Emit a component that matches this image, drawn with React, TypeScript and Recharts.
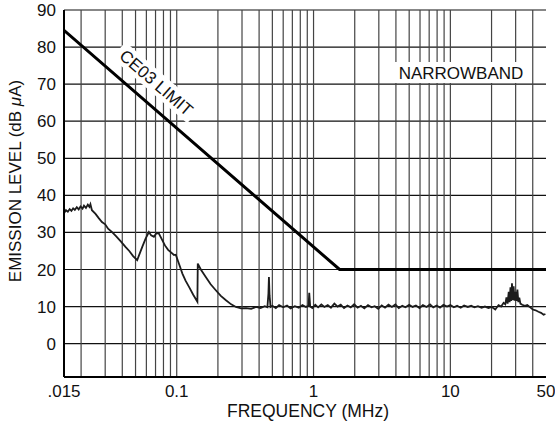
import { LineChart, Line, XAxis, YAxis, CartesianGrid, ReferenceLine } from 'recharts';

// axis ticks
const freqLabelTicks = [0.015, 0.1, 1, 10, 50];
const freqGridTicks = [
  0.02, 0.03, 0.04, 0.05, 0.06, 0.07, 0.08, 0.09,
  0.1, 0.2, 0.3, 0.4, 0.5, 0.6, 0.7, 0.8, 0.9,
  1, 2, 3, 4, 5, 6, 7, 8, 9,
  10, 20, 30, 40,
];
const levelTicks = [0, 10, 20, 30, 40, 50, 60, 70, 80, 90];

// CE03 narrowband limit
const limitFreq = [0.015, 1.55, 50];
const limitLevel = [84.5, 20, 20];

const emissionFreq = [
  0.015, 0.0155, 0.016, 0.0165, 0.017, 0.0175, 0.018, 0.0186, 0.0192, 0.0198,
  0.0205, 0.021, 0.0217, 0.0224, 0.023, 0.0234, 0.024, 0.0255, 0.027, 0.0284,
  0.03, 0.0315, 0.0337, 0.036, 0.039, 0.0422, 0.045, 0.048, 0.0514, 0.053,
  0.056, 0.059, 0.0626, 0.065, 0.0681, 0.071, 0.0741, 0.0784, 0.082, 0.0865,
  0.0904, 0.0955, 0.0984, 0.104, 0.11, 0.116, 0.123, 0.132, 0.1416, 0.1425,
  0.15, 0.163, 0.177, 0.193, 0.21, 0.229, 0.25, 0.271, 0.295, 0.321,
  0.35, 0.38, 0.41, 0.44, 0.46, 0.468, 0.472, 0.477, 0.485,
  0.5, 0.53, 0.56, 0.6, 0.64, 0.68, 0.73, 0.78, 0.83, 0.88,
  0.92, 0.93, 0.945, 0.98, 1.03, 1.08, 1.14, 1.2, 1.27, 1.34,
  1.42, 1.5, 1.58, 1.67, 1.77, 1.87, 1.98, 2.1, 2.22, 2.35,
  2.5, 2.65, 2.8, 2.97, 3.15, 3.33, 3.53, 3.74, 3.96, 4.2,
  4.45, 4.7, 5.0, 5.3, 5.6, 5.95, 6.3, 6.7, 7.1, 7.5,
  7.95, 8.4, 8.9, 9.45, 10, 10.6, 11.2, 11.9, 12.6, 13.4,
  14.2, 15, 15.9, 16.9, 17.9, 19, 20.1, 21.3, 22.5, 23.5,
  24.5, 25.2, 25.7, 26.2, 26.7, 27.1, 27.5, 27.9, 28.2, 28.6,
  29.0, 29.4, 29.9, 30.4, 30.9, 31.4, 31.9, 32.5, 33.5, 35,
  36.5, 38, 40, 42, 44, 46, 48, 49.5,
];
const emissionLevel = [
  35.2, 36.0, 35.6, 36.3, 35.8, 36.5, 36.1, 36.8, 36.2, 37.0,
  36.4, 37.2, 36.6, 37.5, 36.9, 37.6, 36.0, 35.0, 33.8, 32.8,
  32.2, 31.0, 30.1, 29.0, 27.6, 26.1, 25.0, 23.6, 22.5, 23.8,
  26.1, 28.2, 30.1, 29.2, 28.8, 29.8, 29.7, 27.9, 26.5, 25.3,
  24.7, 23.9, 24.0, 21.5, 18.9, 17.0, 15.3, 13.2, 11.3, 21.6,
  20.0, 18.0, 16.0, 14.4, 12.9, 11.7, 10.6, 9.9, 9.5, 9.6,
  9.4, 9.9, 9.6, 10.1, 9.8, 13.5, 18.0, 13.0, 9.9,
  10.2, 9.6, 10.4, 9.8, 10.3, 9.5, 10.1, 9.7, 10.4, 9.9,
  10.2, 13.7, 10.0, 9.6, 10.5, 9.8, 10.6, 9.9, 10.4, 9.7,
  10.8, 10.0, 10.5, 9.6, 10.3, 9.8, 10.6, 9.7, 10.2, 9.5,
  10.4, 9.8, 10.1, 9.4, 10.3, 9.7, 10.5, 9.9, 10.6, 9.6,
  10.2, 9.8, 10.5, 9.9, 10.3, 9.6, 10.4, 9.9, 10.6, 9.8,
  10.3, 9.7, 10.5, 10.0, 10.4, 9.8, 10.2, 9.7, 10.3, 9.9,
  10.2, 9.8, 10.1, 9.7, 10.0, 9.6, 9.9, 9.2, 10.4, 10.0,
  11.0, 10.6, 12.5, 10.8, 14.0, 11.2, 15.2, 11.5, 16.3, 11.8,
  15.5, 11.6, 14.0, 11.5, 14.6, 11.2, 12.4, 10.8, 10.5, 10.2,
  10.4, 9.9, 9.2, 9.0, 8.6, 8.3, 7.8, 8.0,
];

const limitData = limitFreq.map((f, i) => ({ f, v: limitLevel[i] }));
const emissionData = emissionFreq.map((f, i) => ({ f, v: emissionLevel[i] }));

const FONT = '"Liberation Sans", Arial, Helvetica, sans-serif';
const tickStyle = { fontSize: 17, fill: '#111', fontFamily: FONT };

function fmtFreq(v: number) {
  if (v === 0.015) return '.015';
  return String(v);
}

export default function App() {
  return (
    <div style={{ position: 'absolute', left: 0, top: 0, width: 555, height: 421, background: '#fff' }}>
      <LineChart
        width={555}
        height={421}
        margin={{ top: 10, right: 9, bottom: 14, left: 20 }}
      >
        <CartesianGrid xAxisId="main" yAxisId="left" vertical={false} stroke="#111" strokeWidth={1.2} />
        {freqGridTicks.map((f) => (
          <ReferenceLine
            key={f}
            xAxisId="main"
            yAxisId="left"
            x={f}
            stroke="#444"
            strokeWidth={1.2}
          />
        ))}
        <XAxis
          xAxisId="main"
          dataKey="f"
          type="number"
          scale="log"
          domain={[0.015, 50]}
          ticks={freqLabelTicks}
          interval={0}
          tickFormatter={fmtFreq}
          tickLine={false}
          axisLine={{ stroke: '#000', strokeWidth: 2 }}
          tick={tickStyle}
          height={30}
          allowDataOverflow
        />
        <XAxis
          xAxisId="top"
          orientation="top"
          dataKey="f"
          type="number"
          scale="log"
          domain={[0.015, 50]}
          tick={false}
          tickLine={false}
          axisLine={{ stroke: '#000', strokeWidth: 2 }}
          height={0}
          allowDataOverflow
        />
        <YAxis
          yAxisId="left"
          type="number"
          domain={[-9, 90]}
          ticks={levelTicks}
          interval={0}
          tickLine={false}
          axisLine={{ stroke: '#000', strokeWidth: 2 }}
          tick={tickStyle}
          width={44}
          allowDataOverflow
        />
        <YAxis
          yAxisId="right"
          orientation="right"
          type="number"
          domain={[-9, 90]}
          tick={false}
          tickLine={false}
          axisLine={{ stroke: '#000', strokeWidth: 2 }}
          width={0}
          allowDataOverflow
        />
        <Line
          xAxisId="main"
          yAxisId="left"
          data={emissionData}
          dataKey="v"
          type="linear"
          stroke="#1c1c1c"
          strokeWidth={1.8}
          dot={false}
          isAnimationActive={false}
        />
        <Line
          xAxisId="main"
          yAxisId="left"
          data={limitData}
          dataKey="v"
          type="linear"
          stroke="#000"
          strokeWidth={3}
          dot={false}
          isAnimationActive={false}
        />
      </LineChart>
      <svg
        width={555}
        height={421}
        style={{ position: 'absolute', left: 0, top: 0, pointerEvents: 'none' }}
        fontFamily={FONT}
      >
        <g transform="translate(156 83) rotate(41)">
          <rect x={-50} y={-11} width={100} height={21} fill="#fff" />
          <text x={0} y={0} textAnchor="middle" dominantBaseline="central" fontSize={17} fill="#111">
            CE03 LIMIT
          </text>
        </g>
        <rect x={392} y={62} width={138} height={21} fill="#fff" />
        <text x={461} y={73} textAnchor="middle" dominantBaseline="central" fontSize={17} fill="#111">
          NARROWBAND
        </text>
        <text
          transform="translate(15 181) rotate(-90)"
          textAnchor="middle"
          dominantBaseline="central"
          fontSize={17}
          fill="#111"
        >
          EMISSION LEVEL (dB <tspan fontStyle="italic">μ</tspan>A)
        </text>
        <text x={308} y={417} textAnchor="middle" fontSize={17.5} fill="#111">
          FREQUENCY (MHz)
        </text>
      </svg>
    </div>
  );
}
